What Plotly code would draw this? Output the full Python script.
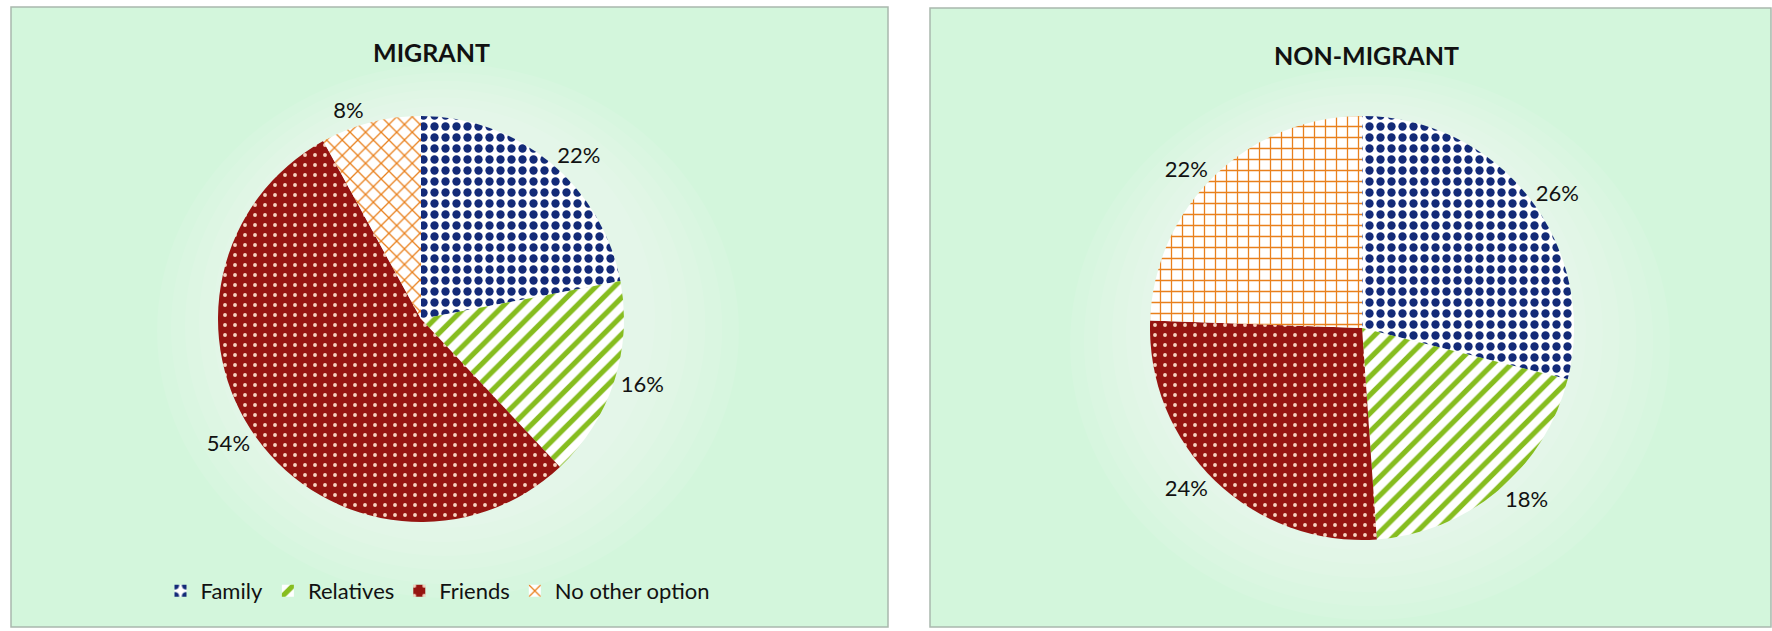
import plotly.graph_objects as go

categories = ["Family", "Relatives", "Friends", "No other option"]
migrant_values = [22, 16, 54, 8]
nonmigrant_values = [26, 18, 24, 22]
titles = ["MIGRANT", "NON-MIGRANT"]

W, H = 1772, 631
FONT = "Lato, 'Open Sans', sans-serif"
PANEL_BG = "#d3f6dc"

fg_colors = ["#132a78", "#86bd1f", "#f6d2bf", "#e9801c"]
bg_colors = ["white", "white", "#951410", "white"]
solid = [0.45, 0.4, 0.12, 0.22]
sizes = [11, 13, 10, 11]

def px_dom(cx, cy, r):
    return dict(x=[(cx - r) / W, (cx + r) / W], y=[(H - cy - r) / H, (H - cy + r) / H])

fig = go.Figure()

for vals, dom, shapes_list, leg in [
    (migrant_values, px_dom(421, 319, 203), [".", "/", ".", "x"], "legend"),
    (nonmigrant_values, px_dom(1362, 328, 212), [".", "/", ".", "+"], "legend2"),
]:
    fig.add_trace(go.Pie(
        labels=categories, values=vals, sort=False, direction="clockwise", rotation=0,
        domain=dom,
        marker=dict(colors=bg_colors, line=dict(width=0),
                    pattern=dict(shape=shapes_list, fgcolor=fg_colors, bgcolor=bg_colors,
                                 solidity=solid, size=sizes, fillmode="replace")),
        texttemplate="%{value}%", textposition="outside",
        textfont=dict(family=FONT, size=22, color="#111"),
        outsidetextfont=dict(family=FONT, size=22, color="#111"),
        legend=leg, showlegend=True, hoverinfo="label+value",
    ))

shapes = [
    dict(type="rect", xref="paper", yref="paper", x0=11 / W, x1=888 / W, y0=1 - 627 / H, y1=1 - 7 / H,
         fillcolor=PANEL_BG, line=dict(color="#a9b8ad", width=1.5), layer="below"),
    dict(type="rect", xref="paper", yref="paper", x0=930 / W, x1=1771 / W, y0=1 - 627 / H, y1=1 - 8 / H,
         fillcolor=PANEL_BG, line=dict(color="#a9b8ad", width=1.5), layer="below"),
]

# soft whitish scan glow behind each pie
for cx, cy, r in [(440, 315, 203), (1362, 328, 212)]:
    for extra in [80, 66, 52, 38, 24, 10]:
        shapes.append(dict(type="circle", xref="x", yref="y",
                           x0=cx - r - extra, x1=cx + r + extra * 1.2,
                           y0=H - cy - r - extra, y1=H - cy + r + extra * 0.6,
                           fillcolor="rgba(255,255,255,0.09)", line=dict(width=0), layer="below"))

annotations = [
    dict(text="<b>" + titles[0] + "</b>", x=431 / W, y=1 - 52 / H, xref="paper", yref="paper",
         showarrow=False, font=dict(family=FONT, size=25, color="#111"), xanchor="center", yanchor="middle"),
    dict(text="<b>" + titles[1] + "</b>", x=1366 / W, y=1 - 55 / H, xref="paper", yref="paper",
         showarrow=False, font=dict(family=FONT, size=25, color="#111"), xanchor="center", yanchor="middle"),
]

fig.update_layout(
    width=W, height=H, margin=dict(l=0, r=0, t=0, b=0),
    paper_bgcolor="white", plot_bgcolor="rgba(0,0,0,0)",
    xaxis=dict(range=[0, W], visible=False, domain=[0, 1], fixedrange=True),
    yaxis=dict(range=[0, H], visible=False, domain=[0, 1], fixedrange=True),
    shapes=shapes, annotations=annotations,
    legend=dict(orientation="h", x=438 / W, y=1 - 591 / H, xanchor="center", yanchor="middle",
                font=dict(family=FONT, size=22, color="#111"), bgcolor="rgba(0,0,0,0)",
                itemwidth=30, tracegroupgap=0),
    legend2=dict(orientation="h", x=1390 / W, y=1 - 598 / H, xanchor="center", yanchor="middle",
                 font=dict(family=FONT, size=22, color="#111"), bgcolor="rgba(0,0,0,0)",
                 itemwidth=30, tracegroupgap=0),
)

fig.write_html("out.html")
